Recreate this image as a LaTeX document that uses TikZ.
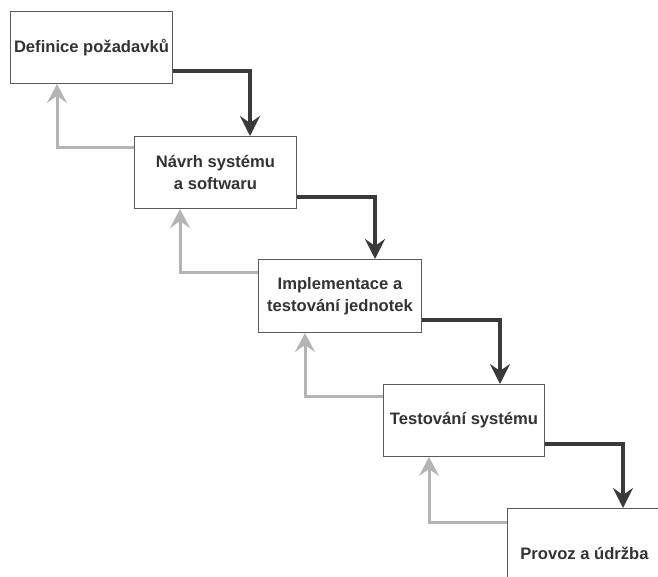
\documentclass[tikz,border=0pt]{standalone}
\usepackage{fontspec}
\setmainfont{Liberation Sans}
\usetikzlibrary{arrows.meta}
\definecolor{boxline}{HTML}{5A5A5A}
\definecolor{labeltext}{HTML}{333333}
\definecolor{forward}{HTML}{3A3A3A}
\definecolor{feedback}{HTML}{B4B4B4}
\tikzset{
  phase/.style={draw=boxline, line width=1pt, fill=white, anchor=north west,
    minimum width=162pt, minimum height=72pt, inner sep=0pt, align=center,
    text=labeltext, font=\bfseries\fontsize{16.6}{21.5}\selectfont},
  fwd/.style={draw=forward, line width=3.6pt,
    -{Stealth[length=20pt, width=20pt, inset=7pt]}},
  back/.style={draw=feedback, line width=3pt,
    -{Stealth[length=19pt, width=20pt, inset=7pt]}}
}
\begin{document}
\begin{tikzpicture}[x=1pt, y=-1pt]
  \useasboundingbox (0,0) rectangle (658,577);
  \clip (0,0) rectangle (658,577);
  \fill[white] (0,0) rectangle (658,577);

  % phases of the waterfall model
  \node[phase] (b1) at (10,11) {Definice požadavků};
  \node[phase] (b2) at (134,136) {Návrh systému\\a softwaru};
  \node[phase, minimum width=163pt, minimum height=73pt] (b3) at (258,259) {Implementace a\\testování jednotek};
  \node[phase, minimum width=161pt] (b4) at (383,384) {Testování systému};
  \node[phase, minimum width=154pt, minimum height=90pt] (b5) at (507,508) {Provoz a údržba};

  % forward flow to the next phase
  \draw[fwd] ([yshift=13pt]b1.south east) -| ([xshift=116pt]b2.north west);
  \draw[fwd] ([yshift=12pt]b2.south east) -| ([xshift=117pt]b3.north west);
  \draw[fwd] ([yshift=13pt]b3.south east) -| ([xshift=117pt]b4.north west);
  \draw[fwd] ([yshift=13pt]b4.south east) -| ([xshift=116pt]b5.north west);

  % feedback to the previous phase
  \draw[back] ([yshift=-12pt]b2.north west) -| ([xshift=47pt]b1.south west);
  \draw[back] ([yshift=-13pt]b3.north west) -| ([xshift=46pt]b2.south west);
  \draw[back] ([yshift=-12pt]b4.north west) -| ([xshift=47pt]b3.south west);
  \draw[back] ([yshift=-14pt]b5.north west) -| ([xshift=46pt]b4.south west);
\end{tikzpicture}
\end{document}
